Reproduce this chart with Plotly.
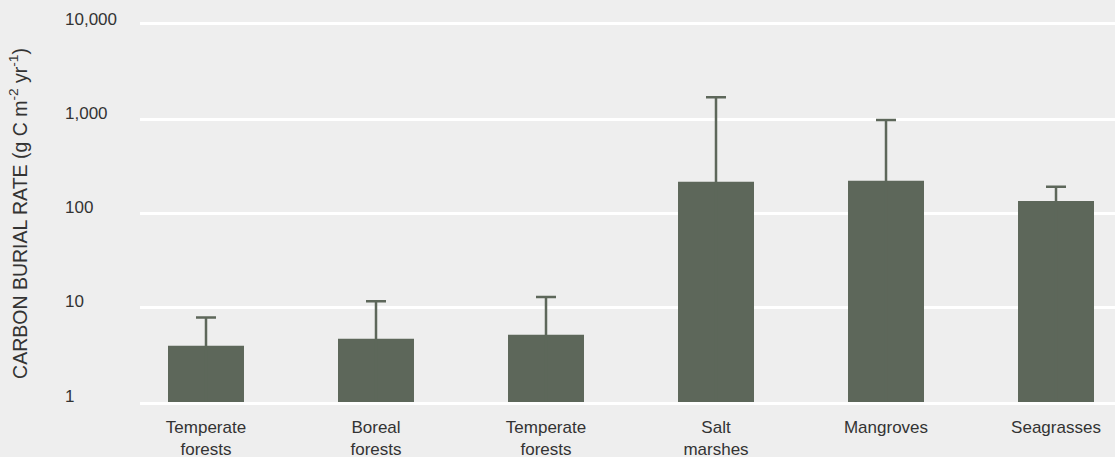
import math
import plotly.graph_objects as go

categories = ["Temperate<br>forests", "Boreal<br>forests", "Temperate<br>forests",
              "Salt<br>marshes", "Mangroves", "Seagrasses"]
burial_rate = [3.95, 4.7, 5.17, 217, 222, 136]
upper_value = [7.9, 11.7, 13.0, 1715, 980, 192]
ytick_vals = [1, 10, 100, 1000, 10000]
ytick_text = ["1", "10", "100", "1,000", "10,000"]

err_plus = [u - v for u, v in zip(upper_value, burial_rate)]
err_minus = list(burial_rate)  # lower end at 0 -> hidden inside the bar on log axis

BAR = "#5d675a"
BG = "#eeeeee"
TXT = "#333333"
FONT = "Liberation Sans, Arial, Helvetica, sans-serif"

xpos = list(range(len(categories)))

fig = go.Figure()
fig.add_trace(go.Bar(
    x=xpos, y=burial_rate, width=0.447,
    marker=dict(color=BAR, line=dict(width=0)),
    error_y=dict(type="data", symmetric=False, array=err_plus, arrayminus=err_minus,
                 color=BAR, thickness=2.5, width=10),
))

annotations = []
for v, t in zip(ytick_vals, ytick_text):
    annotations.append(dict(
        x=-0.079, xref="paper", xanchor="left",
        y=math.log10(v), yref="y", yanchor="middle", yshift=6,
        text=t, showarrow=False, font=dict(size=17, color=TXT, family=FONT)))

fig.update_layout(
    width=1115, height=457,
    margin=dict(l=140, r=0, t=25, b=55),
    paper_bgcolor=BG, plot_bgcolor=BG,
    showlegend=False,
    font=dict(family=FONT, color=TXT, size=17),
    annotations=annotations,
    xaxis=dict(
        tickmode="array", tickvals=xpos, ticktext=categories,
        range=[-0.3882, 5.347], showgrid=False, zeroline=False,
        showline=True, linecolor="white", linewidth=2.5, mirror=True,
        ticks="", tickfont=dict(size=17, color=TXT), automargin=False,
        ticklabelstandoff=8,
    ),
    yaxis=dict(
        type="log", range=[0, 4], tickvals=ytick_vals, showticklabels=False,
        showgrid=True, gridcolor="white", gridwidth=2.5, zeroline=False,
        ticks="", automargin=False,
        title=dict(text="CARBON BURIAL RATE (g C m<sup>-2</sup> yr<sup>-1</sup>)",
                   font=dict(size=19.5, color=TXT, family=FONT), standoff=106),
    ),
)

fig.write_html("out.html", config={"displayModeBar": False},
               post_script="document.body.style.margin='0';document.body.style.padding='0';")
